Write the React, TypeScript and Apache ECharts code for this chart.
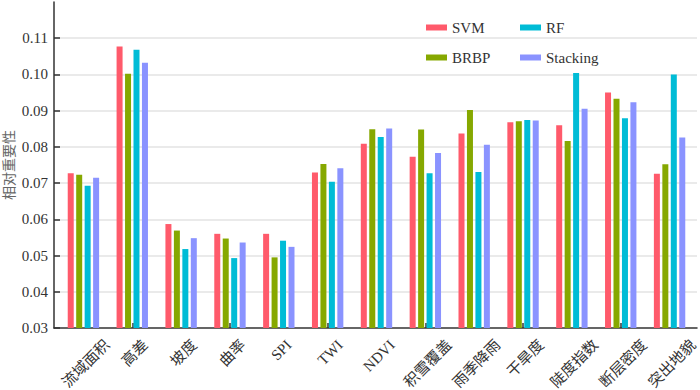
import React, { useEffect, useRef } from "react";
import * as echarts from "echarts";

const categories = ["流域面积", "高差", "坡度", "曲率", "SPI", "TWI", "NDVI", "积雪覆盖", "雨季降雨", "干旱度", "陡度指数", "断层密度", "突出地貌"];
const seriesNames = ["SVM", "BRBP", "RF", "Stacking"];
const svm = [0.0727, 0.1077, 0.0587, 0.056, 0.056, 0.0729, 0.0809, 0.0773, 0.0837, 0.0868, 0.086, 0.095, 0.0726];
const brbp = [0.0723, 0.1002, 0.0569, 0.0547, 0.0495, 0.0753, 0.0849, 0.0848, 0.0902, 0.0871, 0.0816, 0.0933, 0.0752];
const rf = [0.0693, 0.1068, 0.0518, 0.0493, 0.0541, 0.0704, 0.0827, 0.0727, 0.0731, 0.0874, 0.1004, 0.0879, 0.1];
const stacking = [0.0715, 0.1032, 0.0548, 0.0536, 0.0524, 0.0741, 0.0851, 0.0783, 0.0806, 0.0873, 0.0905, 0.0923, 0.0826];
const colors = ["#FF5A6B", "#86A800", "#00BCD6", "#8A93FF"];
const yMin = 0.03;
const yMax = 0.12;
const yStep = 0.01;
const yName = "相对重要性";

const SERIF = "'Liberation Serif', 'Times New Roman', 'Noto Sans CJK SC', serif";
const LABEL_SIZE = 15;

export default function App() {
  const ref = useRef<HTMLDivElement>(null);
  useEffect(() => {
    document.body.style.margin = "0";
    if (!ref.current) return;
    const chart = echarts.init(ref.current, null, { renderer: "svg" });

    const cv = document.createElement("canvas");
    const ctx = cv.getContext("2d");
    const widths = categories.map((c) => {
      if (!ctx) return c.length * LABEL_SIZE;
      ctx.font = `${LABEL_SIZE}px ${SERIF}`;
      return ctx.measureText(c).width;
    });
    const lMin = Math.min(...widths);
    const catData = categories.map((c, i) => {
      const k = (widths[i] - lMin) / 4;
      return {
        value: c,
        textStyle: {
          align: "center",
          verticalAlign: "top",
          padding: [k, 2 * k + 8, 0, 0],
          fontSize: LABEL_SIZE,
          fontFamily: SERIF,
          color: "#333",
        },
      };
    });

    const legendPos = [
      { name: "SVM", left: 426, top: 20 },
      { name: "RF", left: 520, top: 20 },
      { name: "BRBP", left: 426, top: 50 },
      { name: "Stacking", left: 520, top: 50 },
    ];

    const dataSets = [svm, brbp, rf, stacking];

    chart.setOption({
      animation: false,
      grid: [
        { left: 54, right: 3, top: 2, bottom: 62, outerBoundsMode: "none", containLabel: false },
        { left: 59, right: 6, top: 2, bottom: 62, outerBoundsMode: "none", containLabel: false },
      ],
      legend: legendPos.map((l) => ({
        data: [l.name],
        left: l.left,
        top: l.top,
        padding: 0,
        icon: "rect",
        itemWidth: 21,
        itemHeight: 6,
        itemGap: 5,
        textStyle: { fontSize: 15, fontFamily: SERIF, color: "#333" },
      })),
      xAxis: [
        {
          type: "value",
          gridIndex: 0,
          min: 0,
          max: 1,
          axisLine: { show: true, onZero: false, lineStyle: { color: "#333", width: 1.5 } },
          axisTick: { show: false },
          axisLabel: { show: false },
          splitLine: { show: false },
        },
        {
          type: "category",
          gridIndex: 1,
          data: catData,
          axisLine: { show: false },
          axisTick: {
            show: true,
            inside: true,
            length: 5,
            alignWithLabel: true,
            interval: (index: number) => index % 2 === 1,
            lineStyle: { color: "#333", width: 1.5 },
          },
          axisLabel: {
            interval: 0,
            rotate: 45,
            align: "center",
            verticalAlign: "top",
            margin: 14,
            fontSize: LABEL_SIZE,
            fontFamily: SERIF,
            color: "#333",
          },
        },
      ],
      yAxis: [
        {
          type: "value",
          gridIndex: 0,
          min: yMin,
          max: yMax,
          interval: yStep,
          name: yName,
          nameLocation: "middle",
          nameRotate: 90,
          nameGap: 38,
          nameMoveOverlap: false,
          nameTextStyle: { fontSize: 14, color: "#666", fontFamily: SERIF },
          axisLine: { show: true, lineStyle: { color: "#333", width: 1.5 } },
          axisTick: { show: true, inside: true, length: 6, lineStyle: { color: "#333", width: 1.5 } },
          axisLabel: {
            margin: 6,
            fontSize: 15,
            fontFamily: SERIF,
            color: "#333",
            showMaxLabel: false,
            formatter: (v: number) => v.toFixed(2),
          },
          splitLine: { show: true, showMaxLine: false, showMinLine: false, lineStyle: { color: "#e3e3e3", width: 1.5 } },
        },
        {
          type: "value",
          gridIndex: 1,
          min: yMin,
          max: yMax,
          interval: yStep,
          show: false,
          splitLine: { show: false },
        },
      ],
      series: seriesNames.map((n, i) => ({
        name: n,
        type: "bar",
        xAxisIndex: 1,
        yAxisIndex: 1,
        data: dataSets[i],
        barWidth: 6,
        barGap: "41%",
        itemStyle: { color: colors[i] },
      })),
      color: colors,
    });
    return () => chart.dispose();
  }, []);
  return <div ref={ref} style={{ width: 700, height: 390 }} />;
}
